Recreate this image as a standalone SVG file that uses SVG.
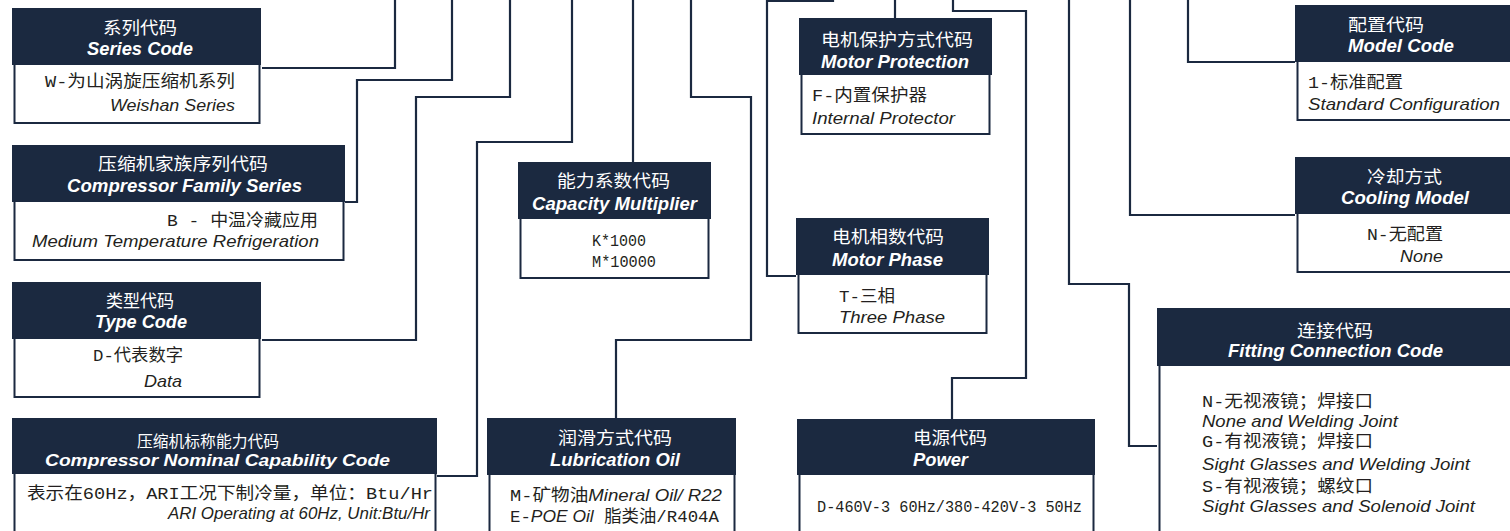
<svg xmlns="http://www.w3.org/2000/svg" width="1510" height="531" viewBox="0 0 1510 531">
<style>
.hd{fill:#1b2940}
.bd{fill:#fff;stroke:#1b2940;stroke-width:2}
#connectors path{fill:none;stroke:#1b2940;stroke-width:2.2}
.hc{fill:#fff;font-family:"Noto Sans CJK SC",sans-serif;font-size:17px}
.he{fill:#fff;font-family:"Liberation Sans",Arial,sans-serif;font-size:17.5px;font-weight:bold;font-style:italic}
.bt{fill:#231f20;font-family:"Liberation Mono","Noto Sans CJK SC",monospace;font-size:16.5px}
.bi{fill:#231f20;font-family:"Liberation Sans",Arial,sans-serif;font-size:16.5px;font-style:italic}
.it{font-family:"Liberation Sans",Arial,sans-serif;font-style:italic;font-size:16.5px}
</style>
<rect width="1510" height="531" fill="#fff"/>
<g id="connectors">
<path d="M262,68 H395 V-2"/>
<path d="M345,202 H357 V80 H452 V-2"/>
<path d="M262,340 H416 V97 H510 V-2"/>
<path d="M437,476 H477 V142 H572 V-2"/>
<path d="M633,162 V-2"/>
<path d="M616,418 V340 H751 V97 H691 V-2"/>
<path d="M796,276 H767 V1 H833 V-2"/>
<path d="M895,18 V-2"/>
<path d="M952,419 V378 H1026 V11 H953 V-2"/>
<path d="M1157,446 H1129 V284 H1069 V-2"/>
<path d="M1295,215 H1130 V-2"/>
<path d="M1295,62 H1188 V-2"/>
</g>
<g id="series-code">
<rect class="bd" x="14.5" y="64" width="245" height="59"/>
<rect class="hd" x="12" y="8" width="249" height="57"/>
<text class="hc" x="103" y="34" textLength="74" lengthAdjust="spacingAndGlyphs">系列代码</text>
<text class="he" x="87" y="55" textLength="106" lengthAdjust="spacingAndGlyphs">Series Code</text>
<text class="bt" x="45" y="87" textLength="190" lengthAdjust="spacingAndGlyphs">W-为山涡旋压缩机系列</text>
<text class="bi" x="110" y="111" textLength="125" lengthAdjust="spacingAndGlyphs">Weishan Series</text>
</g>
<g id="family-series">
<rect class="bd" x="14.5" y="201" width="329" height="59"/>
<rect class="hd" x="12" y="145" width="333" height="57"/>
<text class="hc" x="98" y="170" textLength="170" lengthAdjust="spacingAndGlyphs">压缩机家族序列代码</text>
<text class="he" x="67" y="192" textLength="235" lengthAdjust="spacingAndGlyphs">Compressor Family Series</text>
<text class="bt" x="167" y="226" textLength="151" lengthAdjust="spacingAndGlyphs">B - 中温冷藏应用</text>
<text class="bi" x="32" y="247" textLength="287" lengthAdjust="spacingAndGlyphs">Medium Temperature Refrigeration</text>
</g>
<g id="type-code">
<rect class="bd" x="14.5" y="338" width="245" height="59"/>
<rect class="hd" x="12" y="282" width="249" height="57"/>
<text class="hc" x="106" y="307" textLength="68" lengthAdjust="spacingAndGlyphs">类型代码</text>
<text class="he" x="95" y="328" textLength="92" lengthAdjust="spacingAndGlyphs">Type Code</text>
<text class="bt" x="93" y="361" textLength="90" lengthAdjust="spacingAndGlyphs">D-代表数字</text>
<text class="bi" x="144" y="387" textLength="38" lengthAdjust="spacingAndGlyphs">Data</text>
</g>
<g id="nominal-capability">
<rect class="bd" x="14.5" y="473" width="421" height="80"/>
<rect class="hd" x="12" y="418" width="425" height="56"/>
<text class="hc" x="137" y="447" textLength="142" lengthAdjust="spacingAndGlyphs" style="font-size:15.5px">压缩机标称能力代码</text>
<text class="he" x="45" y="466" textLength="345" lengthAdjust="spacingAndGlyphs" style="font-size:16px">Compressor Nominal Capability Code</text>
<text class="bt" x="27" y="499" textLength="406" lengthAdjust="spacingAndGlyphs">表示在60Hz，ARI工况下制冷量，单位：Btu/Hr</text>
<text class="bi" x="168" y="519" textLength="262" lengthAdjust="spacingAndGlyphs">ARI Operating at 60Hz, Unit:Btu/Hr</text>
</g>
<g id="capacity-multiplier">
<rect class="bd" x="520.5" y="218" width="188" height="60"/>
<rect class="hd" x="518" y="162" width="193" height="57"/>
<text class="hc" x="557" y="187" textLength="113" lengthAdjust="spacingAndGlyphs">能力系数代码</text>
<text class="he" x="532" y="210" textLength="165" lengthAdjust="spacingAndGlyphs">Capacity Multiplier</text>
<text class="bt" x="592" y="246" textLength="54" lengthAdjust="spacingAndGlyphs">K*1000</text>
<text class="bt" x="592" y="267" textLength="64" lengthAdjust="spacingAndGlyphs">M*10000</text>
</g>
<g id="motor-protection">
<rect class="bd" x="801.5" y="74" width="188" height="60"/>
<rect class="hd" x="799" y="18" width="193" height="57"/>
<text class="hc" x="821" y="46" textLength="152" lengthAdjust="spacingAndGlyphs">电机保护方式代码</text>
<text class="he" x="821" y="68" textLength="148" lengthAdjust="spacingAndGlyphs">Motor Protection</text>
<text class="bt" x="812" y="101" textLength="115" lengthAdjust="spacingAndGlyphs">F-内置保护器</text>
<text class="bi" x="812" y="124" textLength="143" lengthAdjust="spacingAndGlyphs">Internal Protector</text>
</g>
<g id="motor-phase">
<rect class="bd" x="798.5" y="274" width="188" height="59"/>
<rect class="hd" x="796" y="218" width="193" height="57"/>
<text class="hc" x="832" y="243" textLength="112" lengthAdjust="spacingAndGlyphs">电机相数代码</text>
<text class="he" x="832" y="266" textLength="111" lengthAdjust="spacingAndGlyphs">Motor Phase</text>
<text class="bt" x="839" y="302" textLength="56" lengthAdjust="spacingAndGlyphs">T-三相</text>
<text class="bi" x="839" y="323" textLength="106" lengthAdjust="spacingAndGlyphs">Three Phase</text>
</g>
<g id="lubrication-oil">
<rect class="bd" x="489.5" y="474" width="245" height="80"/>
<rect class="hd" x="487" y="418" width="249" height="57"/>
<text class="hc" x="558" y="444" textLength="114" lengthAdjust="spacingAndGlyphs">润滑方式代码</text>
<text class="he" x="550" y="466" textLength="130" lengthAdjust="spacingAndGlyphs">Lubrication Oil</text>
<text class="bt" x="510" y="501" textLength="212" lengthAdjust="spacingAndGlyphs">M-矿物油<tspan class="it">Mineral Oil/ R22</tspan></text>
<text class="bt" x="510" y="522" textLength="209" lengthAdjust="spacingAndGlyphs">E-<tspan class="it">POE Oil</tspan> 脂类油/R404A</text>
</g>
<g id="power">
<rect class="bd" x="799.5" y="474" width="294" height="80"/>
<rect class="hd" x="797" y="419" width="298" height="56"/>
<text class="hc" x="913" y="444" textLength="74" lengthAdjust="spacingAndGlyphs">电源代码</text>
<text class="he" x="913" y="466" textLength="55" lengthAdjust="spacingAndGlyphs">Power</text>
<text class="bt" x="817" y="512" textLength="265" lengthAdjust="spacingAndGlyphs">D-460V-3 60Hz/380-420V-3 50Hz</text>
</g>
<g id="model-code">
<rect class="bd" x="1297.5" y="61" width="230" height="59"/>
<rect class="hd" x="1295" y="5" width="230" height="57"/>
<text class="hc" x="1348" y="31" textLength="76" lengthAdjust="spacingAndGlyphs">配置代码</text>
<text class="he" x="1348" y="52" textLength="106" lengthAdjust="spacingAndGlyphs">Model Code</text>
<text class="bt" x="1308" y="88" textLength="95" lengthAdjust="spacingAndGlyphs">1-标准配置</text>
<text class="bi" x="1308" y="110" textLength="192" lengthAdjust="spacingAndGlyphs">Standard Configuration</text>
</g>
<g id="cooling-model">
<rect class="bd" x="1297.5" y="213" width="230" height="59"/>
<rect class="hd" x="1295" y="157" width="230" height="57"/>
<text class="hc" x="1367" y="183" textLength="75" lengthAdjust="spacingAndGlyphs">冷却方式</text>
<text class="he" x="1341" y="204" textLength="128" lengthAdjust="spacingAndGlyphs">Cooling Model</text>
<text class="bt" x="1367" y="240" textLength="76" lengthAdjust="spacingAndGlyphs">N-无配置</text>
<text class="bi" x="1400" y="262" textLength="43" lengthAdjust="spacingAndGlyphs">None</text>
</g>
<g id="fitting-connection">
<rect class="bd" x="1159.5" y="365" width="370" height="180"/>
<rect class="hd" x="1157" y="308" width="370" height="58"/>
<text class="hc" x="1297" y="337" textLength="76" lengthAdjust="spacingAndGlyphs">连接代码</text>
<text class="he" x="1228" y="357" textLength="215" lengthAdjust="spacingAndGlyphs">Fitting Connection Code</text>
<text class="bt" x="1202" y="407" textLength="171" lengthAdjust="spacingAndGlyphs">N-无视液镜；焊接口</text>
<text class="bi" x="1202" y="427" textLength="196" lengthAdjust="spacingAndGlyphs">None and Welding Joint</text>
<text class="bt" x="1202" y="447" textLength="171" lengthAdjust="spacingAndGlyphs">G-有视液镜；焊接口</text>
<text class="bi" x="1202" y="470" textLength="268" lengthAdjust="spacingAndGlyphs">Sight Glasses and Welding Joint</text>
<text class="bt" x="1202" y="492" textLength="171" lengthAdjust="spacingAndGlyphs">S-有视液镜；螺纹口</text>
<text class="bi" x="1202" y="512" textLength="273" lengthAdjust="spacingAndGlyphs">Sight Glasses and Solenoid Joint</text>
</g>
</svg>
